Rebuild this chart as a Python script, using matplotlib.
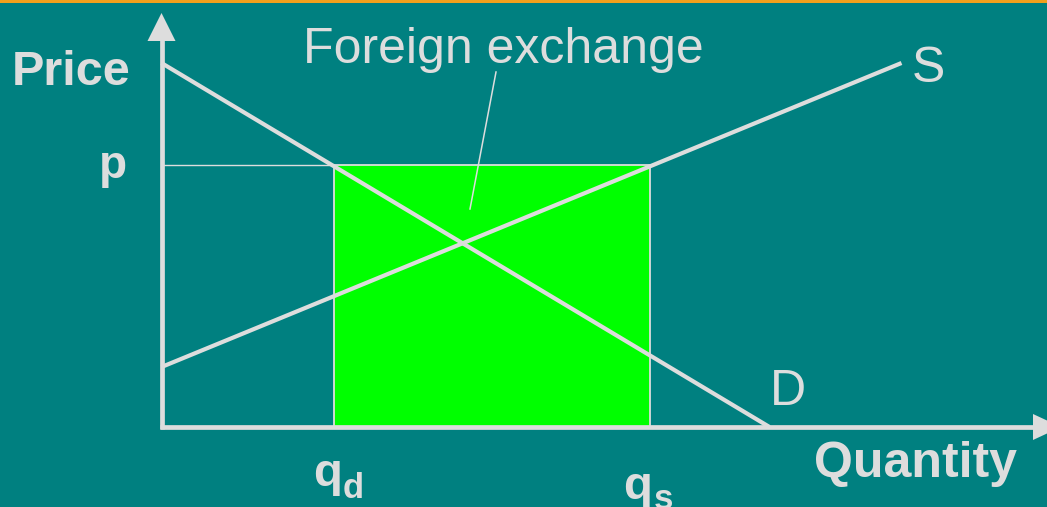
import matplotlib
matplotlib.use("Agg")
from matplotlib import pyplot as plt
from matplotlib.patches import Rectangle

plt.rcParams['font.family'] = ['Liberation Sans', 'DejaVu Sans']

# dane (jednostki umowne)
demand_q = [0.0, 6.08]
demand_p = [3.64, 0.0]
supply_q = [0.0, 7.40]
supply_p = [0.60, 3.64]
p = 2.62
qd = 1.725
qs = 4.885

bg = '#008080'
jasny = '#DDDDDD'
zielony = '#00FF00'

fig = plt.figure(figsize=(10.47, 5.07), dpi=100)
fig.patch.set_facecolor(bg)
ax = fig.add_axes([0, 0, 1, 1])
ax.set_facecolor(bg)
ax.set_xlim(-1.615, 8.855)
ax.set_ylim(-0.80, 4.27)
ax.axis('off')

# pomaranczowy pasek u gory
fig.patches.append(Rectangle((0, 1 - 3 / 507), 1, 3 / 507, transform=fig.transFigure,
                             facecolor='#F2A01C', edgecolor='none'))

# prostokat - wymiana walut
ax.add_patch(Rectangle((qd, 0), qs - qd, p, facecolor=zielony, edgecolor=jasny, lw=1.3, zorder=2))
ax.plot([0, qd], [p, p], color=jasny, lw=1.0, zorder=2)

# krzywe popytu i podazy
ax.plot(demand_q, demand_p, color=jasny, lw=3.0, solid_capstyle='butt', zorder=3)
ax.plot(supply_q, supply_p, color=jasny, lw=3.0, solid_capstyle='butt', zorder=3)

# osie ze strzalkami
ax.plot([0, 0], [-0.02, 3.88], color=jasny, lw=3.4, solid_capstyle='butt', zorder=4)
ax.plot([-0.02, 8.73], [0, 0], color=jasny, lw=3.4, solid_capstyle='butt', zorder=4)
ax.fill([-0.14, 0.14, 0], [3.86, 3.86, 4.14], color=jasny, lw=0, zorder=4)
ax.fill([8.715, 8.715, 8.995], [-0.13, 0.13, 0], color=jasny, lw=0, zorder=4)

# linia od napisu
ax.plot([3.345, 3.085], [3.55, 2.18], color=jasny, lw=1.1, zorder=4)

# napisy
ax.text(-1.495, 3.42, 'Price', color=jasny, fontsize=35, fontweight='bold', ha='left', va='baseline')
ax.text(1.415, 3.64, 'Foreign exchange', color=jasny, fontsize=36, ha='left', va='baseline')
ax.text(7.50, 3.45, 'S', color=jasny, fontsize=36, ha='left', va='baseline')
ax.text(6.08, 0.22, 'D', color=jasny, fontsize=36, ha='left', va='baseline')
ax.text(-0.63, 2.49, 'p', color=jasny, fontsize=33, fontweight='bold', ha='left', va='baseline')
ax.text(1.515, -0.59, 'q', color=jasny, fontsize=34, fontweight='bold', ha='left', va='baseline')
ax.text(1.815, -0.71, 'd', color=jasny, fontsize=25, fontweight='bold', ha='left', va='baseline')
ax.text(4.615, -0.72, 'q', color=jasny, fontsize=34, fontweight='bold', ha='left', va='baseline')
ax.text(4.925, -0.82, 's', color=jasny, fontsize=25, fontweight='bold', ha='left', va='baseline')
ax.text(6.52, -0.50, 'Quantity', color=jasny, fontsize=36, fontweight='bold', ha='left', va='baseline')

fig.savefig('out.png', dpi=100, facecolor=bg)
